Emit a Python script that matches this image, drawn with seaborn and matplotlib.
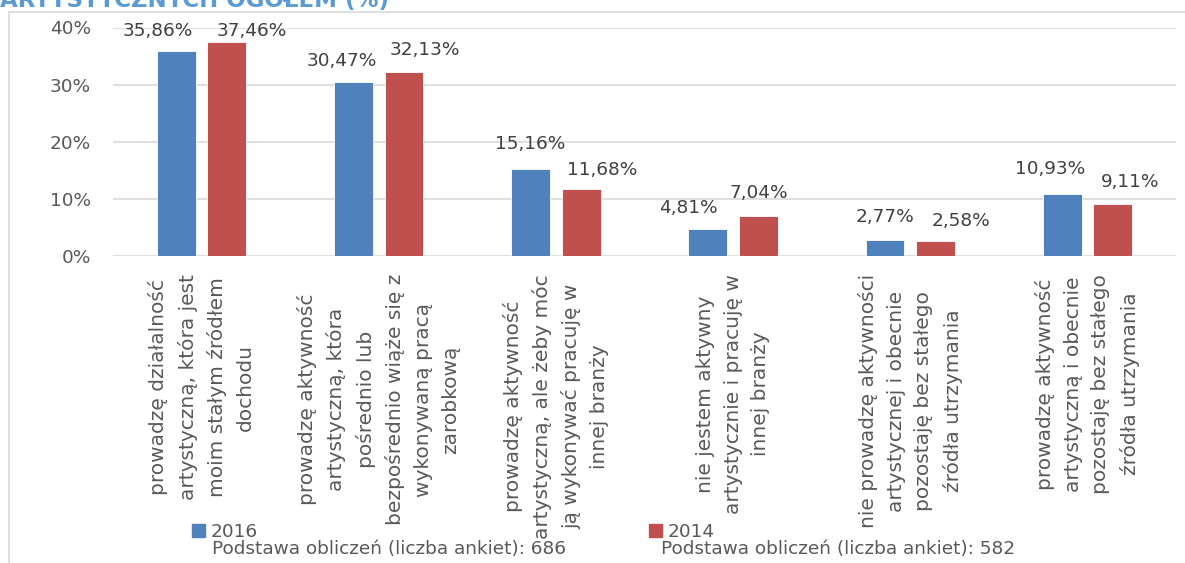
import pandas as pd
import numpy as np
import seaborn as sns
import matplotlib.pyplot as plt
from matplotlib.patches import Patch, Rectangle

sns.set_theme(style="whitegrid")
plt.rcParams['font.family'] = ['DejaVu Sans']

# data
categories = [
    'prowadzę działalność\nartystyczną, która jest\nmoim stałym źródłem\ndochodu',
    'prowadzę aktywność\nartystyczną, która\npośrednio lub\nbezpośrednio wiąże się z\nwykonywaną pracą\nzarobkową',
    'prowadzę aktywność\nartystyczną, ale żeby móc\nją wykonywać pracuję w\ninnej branży',
    'nie jestem aktywny\nartystycznie i pracuję w\ninnej branży',
    'nie prowadzę aktywności\nartystycznej i obecnie\npozostaję bez stałego\nźródła utrzymania',
    'prowadzę aktywność\nartystyczną i obecnie\npozostaję bez stałego\nźródła utrzymania',
]
years = ['2016', '2014']
v2016 = [35.86, 30.47, 15.16, 4.81, 2.77, 10.93]
v2014 = [37.46, 32.13, 11.68, 7.04, 2.58, 9.11]
sample_notes = ['Podstawa obliczeń (liczba ankiet): 686',
                'Podstawa obliczeń (liczba ankiet): 582']
title = 'ARTYSTYCZNYCH OGÓŁEM (%)'

colors = ['#4F81BD', '#C0504D']
# label nudges in pixels (excel pushes overlapping labels apart)
lab_dx = [[-19, -12, 0, -19, 0, -12], [25, 21, 21, 0, 26, 17]]
lab_dy = [[20, 21, 25, 21, 23, 25], [11, 22, 19, 23, 20, 22]]

df = pd.DataFrame({
    'kat': categories * 2,
    'rok': [years[0]] * 6 + [years[1]] * 6,
    'val': v2016 + v2014,
})

W, H = 1185, 563
fig = plt.figure(figsize=(W / 100, H / 100), dpi=100)
ax = fig.add_axes([113 / W, 1 - 256 / H, (1176 - 113) / W, (256 - 27.5) / H])

sns.barplot(data=df, x='kat', y='val', hue='rok', palette=colors,
            width=0.57, gap=0.23, legend=False, ax=ax, saturation=1,
            edgecolor='white', linewidth=0.6)

ax.set_ylim(0, 40)
ax.set_yticks([0, 10, 20, 30, 40])
ax.set_yticklabels([f'{t}%' for t in [0, 10, 20, 30, 40]])
ax.grid(axis='y', color='#D9D9D9', lw=1.2)
ax.grid(axis='x', visible=False)
ax.set_axisbelow(True)
for s in ax.spines.values():
    s.set_visible(False)
ax.set_xlabel('')
ax.set_ylabel('')
ax.tick_params(axis='y', length=0, pad=16, labelsize=13.3, labelcolor='#595959')
ax.tick_params(axis='x', length=0, pad=13, labelsize=14.5, labelcolor='#595959')
ax.set_xticks(range(len(categories)))
ax.set_xticklabels(categories, rotation=90, ha='center', va='top',
                   multialignment='center', linespacing=1.58)

for i, cont in enumerate(ax.containers):
    vals = v2016 if i == 0 else v2014
    for j, p in enumerate(cont.patches):
        ax.annotate(f'{vals[j]:.2f}'.replace('.', ',') + '%',
                    (p.get_x() + p.get_width() / 2, p.get_height()),
                    xytext=(lab_dx[i][j], lab_dy[i][j]), textcoords='offset pixels',
                    ha='center', va='center', fontsize=13.3, color='#404040',
                    annotation_clip=False)

handles = [Patch(color=c) for c in colors]
fig.legend(handles, years, loc='center left',
           bbox_to_anchor=(192 / W, 1 - 532 / H), ncol=2, frameon=False,
           borderpad=0, borderaxespad=0, handlelength=0.7, handleheight=0.7,
           handletextpad=0.3, columnspacing=21.2, fontsize=13.3,
           labelcolor='#595959')
fig.text(212 / W, 1 - 549 / H, sample_notes[0], ha='left', va='center',
         fontsize=13.3, color='#595959')
fig.text(661 / W, 1 - 549 / H, sample_notes[1], ha='left', va='center',
         fontsize=13.3, color='#595959')

fig.text(0, 1 - 7 / H, title, ha='left', va='baseline', fontsize=16.5,
         weight='bold', color='#5B9BD5')
fig.patches.append(Rectangle((9 / W, -0.1), 1.2, 1.1 - 12 / H,
                             transform=fig.transFigure, fill=False,
                             ec='#D9D9D9', lw=1.2))

fig.savefig('out.png', dpi=100)
